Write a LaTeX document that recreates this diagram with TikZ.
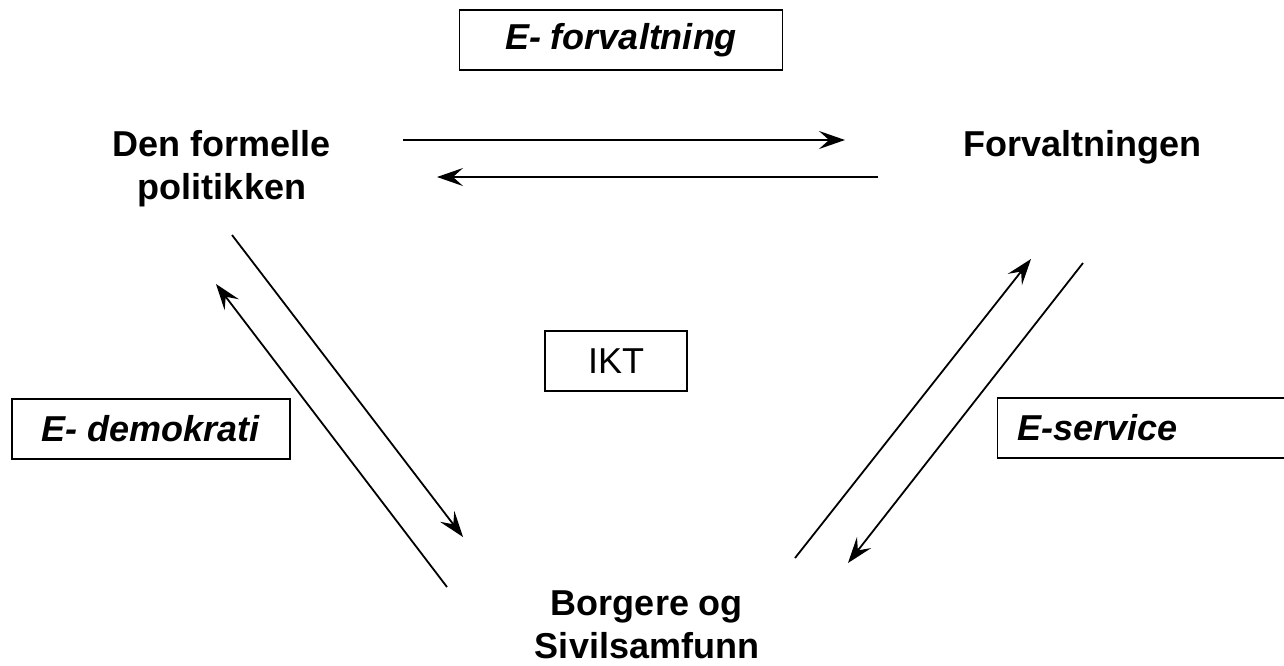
\documentclass[tikz,border=0pt]{standalone}
\usepackage{fontspec}
\setmainfont{Liberation Sans}
\usetikzlibrary{arrows.meta}

\tikzset{
  actor/.style={font=\fontsize{36}{43}\selectfont\bfseries, align=center, inner sep=0pt},
  tag/.style={draw=black, line width=1.2pt, font=\fontsize{36}{40}\selectfont\bfseries\itshape,
    minimum height=60pt, inner sep=0pt},
  flow/.style={line width=1.8pt, -{Stealth[length=26pt,width=18pt,inset=10pt]}}
}

\begin{document}
\begin{tikzpicture}[x=1pt,y=-1pt]
   \useasboundingbox (0,0) rectangle (1284,665);
   \clip (0,0) rectangle (1284,665);
   % the three actors
   \node[actor] (pol) at (222,169) {Den formelle\\politikken};
   \node[actor] (forv) at (1082,147) {Forvaltningen};
   \node[actor] (borg) at (647,625) {Borgere og\\Sivilsamfunn};
   % boxed tags
   \node[tag, minimum width=323pt] (eforv) at (621,40) {E- forvaltning};
   \node[tag, minimum width=278pt] (edemo) at (151,429) {E- demokrati};
   \node[tag, anchor=west, text width=280pt, align=left, inner xsep=20pt] (eserv) at (997,428) {E-service};
   \node[tag, font=\fontsize{36}{40}\selectfont, minimum width=142pt] (ikt) at (616,361) {IKT};
   % arrow ends
   \coordinate (p1) at (403,140);  \coordinate (q1) at (845,140);
   \coordinate (p2) at (878,177);  \coordinate (q2) at (437,177);
   \coordinate (p3) at (232,235);  \coordinate (q3) at (463,537);
   \coordinate (p4) at (447,587);  \coordinate (q4) at (216,284);
   \coordinate (p5) at (795,558);  \coordinate (q5) at (1031,259);
   \coordinate (p6) at (1083,263); \coordinate (q6) at (848,563);
   % flows
   \draw[flow] (p1) -- (q1);
   \draw[flow] (p2) -- (q2);
   \draw[flow] (p3) -- (q3);
   \draw[flow] (p4) -- (q4);
   \draw[flow] (p5) -- (q5);
   \draw[flow] (p6) -- (q6);
\end{tikzpicture}
\end{document}
